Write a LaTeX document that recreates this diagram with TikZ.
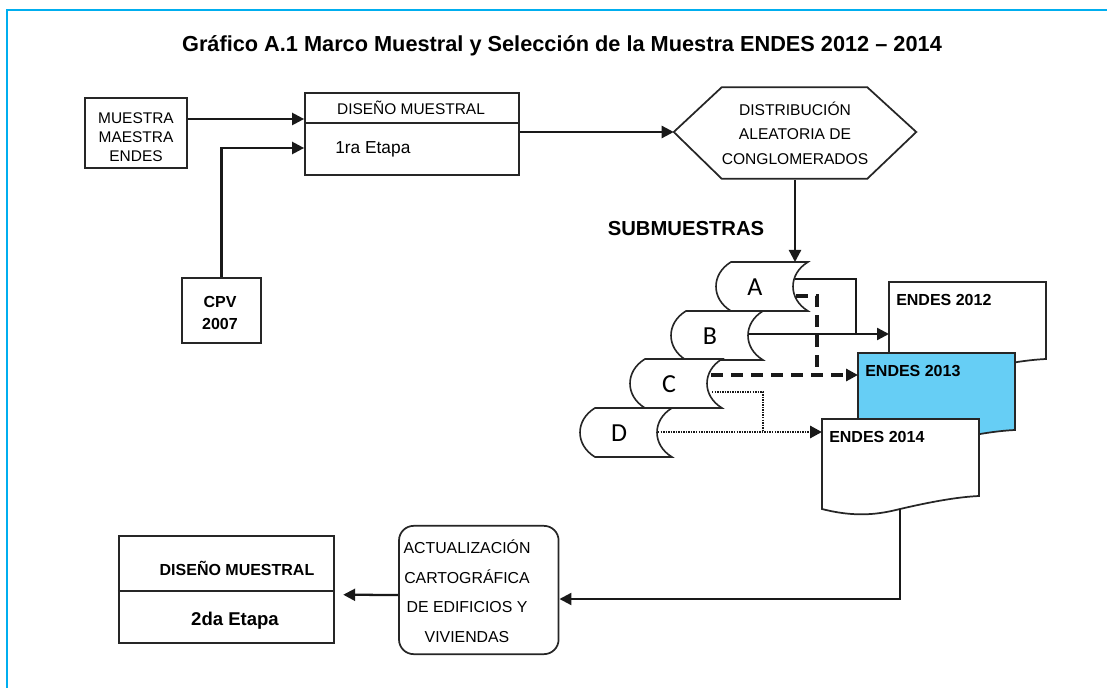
\documentclass[tikz,border=0pt]{standalone}
\usepackage{fontspec}
\setmainfont{Liberation Sans}
\newfontfamily\letrarollo{Carlito}
\usetikzlibrary{arrows.meta,calc,positioning}
\definecolor{cianmarco}{RGB}{0,174,239}
\definecolor{celeste}{RGB}{102,206,245}
\newlength\px
\setlength\px{0.75pt}
\tikzset{
  caja/.style={
    draw=black!85,
    line width=1.3pt,
    inner sep=0pt
  },
  texto/.style={
    font=\fontsize{11.6}{14.2}\selectfont,
    align=center,
    inner sep=0pt
  },
  negrita/.style={
    font=\bfseries\fontsize{12}{16.5}\selectfont,
    align=center,
    inner sep=0pt
  },
  punta/.style={-{Triangle[length=9pt,width=9pt]}},
  linea/.style={line width=1.7pt, black!90},
  flecha/.style={linea, punta},
  rayas/.style={line width=2.3pt, black!90, dash pattern=on 9pt off 6pt},
  puntos/.style={line width=2.2pt, black!90, dash pattern=on 1.1pt off 0.8pt}
}
% rollo: esquina superior derecha x, y superior, letra, nombre
\newcommand\rollo[4]{%
  \draw[caja, line width=1.2pt, fill=white] (#1-77,#2) -- (#1,#2)
    .. controls (#1-20,#2+12) and (#1-20,#2+37) .. (#1,#2+49) -- (#1-77,#2+49)
    .. controls (#1-97,#2+37) and (#1-97,#2+12) .. (#1-77,#2) -- cycle;
  \node[font=\letrarollo\fontsize{19.5}{19.5}\selectfont, inner sep=0pt] (#4) at (#1-53,#2+25) {#3};
}
% documento: esquina superior izquierda x, y, relleno, nombre, rotulo
\newcommand\documento[5]{%
  \draw[caja, fill=#3] (#1,#2) -- (#1+157,#2) -- (#1+157,#2+77)
    .. controls (#1+135,#2+78) and (#1+108,#2+83) .. (#1+78,#2+90)
    .. controls (#1+58,#2+95) and (#1+35,#2+99) .. (#1,#2+90) -- cycle;
  \node[anchor=north west, minimum width=157\px, minimum height=90\px, inner sep=0pt] (#4) at (#1,#2) {};
  \node[negrita, anchor=west] (#4-t) at (#1+7,#2+18) {#5};
}
\begin{document}
\begin{tikzpicture}[x=0.75pt, y=-0.75pt]
\fill[white] (0,0) rectangle (1107,688);
\useasboundingbox (0,0) rectangle (1107,688);
\draw[cianmarco, line width=2pt] (7,688) -- (7,10) -- (1107,10);

\node[font=\bfseries\fontsize{16.3}{19}\selectfont] (titulo) at (562,46) {Gráfico A.1 Marco Muestral y Selección de la Muestra ENDES 2012 – 2014};

% primera etapa
\node[caja, minimum width=102\px, minimum height=70\px] (mme) at (136,133) {};
\node[texto] (mme-t) at (136,137) {MUESTRA\\MAESTRA\\ENDES};
\node[caja, minimum width=214\px, minimum height=82\px] (dm1) at (412,134) {};
\draw[caja] (dm1.west |- 0,123) -- (dm1.east |- 0,123);
\node[texto] (dm1-a) at (411,108) {DISEÑO MUESTRAL};
\node[texto, font=\fontsize{13}{15}\selectfont, anchor=west] (dm1-b) at (335,149) {1ra Etapa};
\node[caja, minimum width=79\px, minimum height=65\px] (cpv) at (221.5,310.5) {};
\node[negrita] (cpv-t) at (220,313) {CPV\\2007};

\node[texto, font=\fontsize{11.7}{18.4}\selectfont, minimum width=242\px, minimum height=93\px] (dist) at (795,133) {DISTRIBUCIÓN\\ALEATORIA DE\\CONGLOMERADOS};
\draw[caja] ([yshift=1\px]dist.west) -- ([xshift=48\px,yshift=-1\px]dist.north west) -- ([xshift=-49\px,yshift=-1\px]dist.north east)
  -- ([yshift=1\px]dist.east) -- ([xshift=-49\px,yshift=1\px]dist.south east) -- ([xshift=48\px,yshift=1\px]dist.south west) -- cycle;

\draw[flecha] (mme.east |- 0,119) -- (dm1.west |- 0,119);
\draw[flecha] (cpv.north) |- (dm1.west |- 0,148);
\draw[flecha] (dm1.east |- 0,132) -- (dist.west |- 0,132);

% submuestras
\node[font=\bfseries\fontsize{15.2}{18}\selectfont] (subm) at (686,229) {SUBMUESTRAS};
\rollo{808}{262}{A}{rolloA}
\rollo{763}{311}{B}{rolloB}
\rollo{722}{359}{C}{rolloC}
\rollo{672}{408}{D}{rolloD}
\coordinate (a-top) at (795,262);
\draw[flecha] (dist.south) -- (a-top);

\documento{889}{282}{white}{e12}{ENDES 2012}
\documento{858}{353}{celeste}{e13}{ENDES 2013}
\documento{822}{419}{white}{e14}{ENDES 2014}

\coordinate (a-o1) at (795,279);
\coordinate (a-o2) at (796,296);
\coordinate (b-o) at (748,334);
\coordinate (c-o1) at (711,375);
\coordinate (c-o2) at (712,392);
\coordinate (d-o) at (658,432);
\coordinate (a-j) at (856,334);
\coordinate (a-k) at (817,375);
\coordinate (c-j) at (763,432);
\coordinate (e14-o) at (900,509);

\draw[linea] (a-o1) -| (a-j);
\draw[flecha] (b-o) -- (b-o -| e12.west);
\draw[rayas] (a-o2) -| (a-k);
\draw[rayas, punta] (c-o1) -- (c-o1 -| e13.west);
\draw[puntos] (c-o2) -| (c-j);
\draw[puntos, punta] (d-o) -- (d-o -| e14.west);

% segunda etapa
\node[caja, rounded corners=11pt, minimum width=159.6\px, minimum height=128.3\px] (act) at (478.8,590) {};
\node[texto, font=\fontsize{11.9}{22.1}\selectfont] (act-t) at (467,591) {ACTUALIZACIÓN\\CARTOGRÁFICA\\DE EDIFICIOS Y\\VIVIENDAS};
\node[caja, minimum width=215.7\px, minimum height=107.3\px] (dm2) at (226.5,589.7) {};
\draw[caja] (dm2.west |- 0,591) -- (dm2.east |- 0,591);
\node[negrita] (dm2-a) at (237,568) {DISEÑO MUESTRAL};
\node[negrita, font=\bfseries\fontsize{13.9}{16}\selectfont] (dm2-b) at (235,621) {2da Etapa};

\draw[flecha] (e14-o) |- ([yshift=-9\px]act.east);
\draw[flecha, shorten >=8\px] ([yshift=-5\px]act.west) -- ([yshift=-5\px]dm2.east);
\end{tikzpicture}
\end{document}
